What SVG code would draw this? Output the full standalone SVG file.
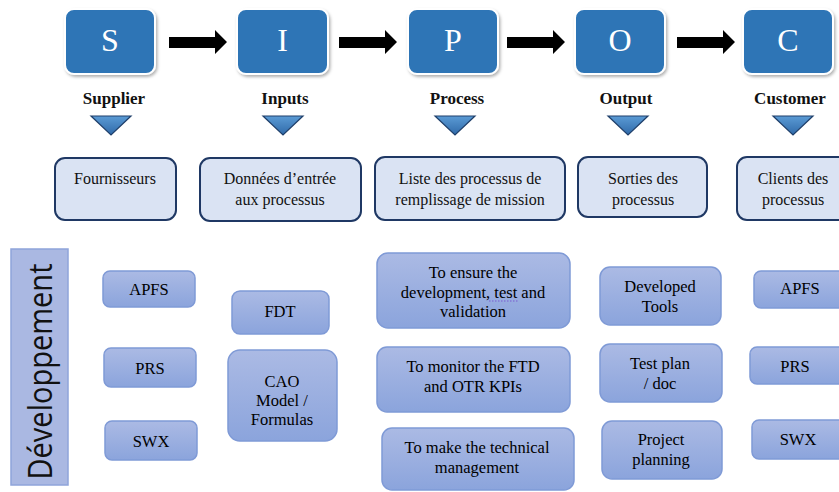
<svg xmlns="http://www.w3.org/2000/svg" width="839" height="492" viewBox="0 0 839 492">
  <defs>
    <style>
      .key rect { fill: #2e75b6; stroke: #ffffff; stroke-width: 2; }
      .key text { font-family: "Liberation Serif", "DejaVu Serif", serif; font-size: 32px; fill: #ffffff; text-anchor: middle; }
      .lbl { font-family: "Liberation Serif", "DejaVu Serif", serif; font-size: 17px; font-weight: bold; fill: #111111; text-anchor: middle; }
      .tri { fill: url(#triGrad); stroke: #1f3f6a; stroke-width: 1.2; }
      .hdr rect { fill: #dae3f3; stroke: #1f3864; stroke-width: 2; }
      .hdr text { font-family: "Liberation Serif", "DejaVu Serif", serif; font-size: 16px; fill: #111111; text-anchor: middle; }
      .itm rect { fill: url(#itmGrad); stroke: #7f9ad6; stroke-width: 1.5; }
      .itm text { font-family: "Liberation Serif", "DejaVu Serif", serif; font-size: 16.5px; fill: #000000; text-anchor: middle; }
      .arrow { fill: #000000; }
    </style>
    <linearGradient id="triGrad" x1="0" y1="0" x2="0" y2="1">
      <stop offset="0" stop-color="#5b9bd5"/>
      <stop offset="1" stop-color="#2f69a8"/>
    </linearGradient>
    <linearGradient id="itmGrad" x1="0" y1="0" x2="0" y2="1">
      <stop offset="0" stop-color="#abbae4"/>
      <stop offset="1" stop-color="#8ba4dc"/>
    </linearGradient>
    <filter id="shadow" x="-10%" y="-10%" width="125%" height="130%">
      <feDropShadow dx="1.5" dy="2" stdDeviation="1.5" flood-color="#000000" flood-opacity="0.3"/>
    </filter>
  </defs>

  <rect width="839" height="492" fill="#ffffff"/>

  <!-- SIPOC letter blocks -->
  <g id="key-s" class="key"><rect x="65" y="9" width="90" height="65" rx="9" filter="url(#shadow)"/><text x="110" y="51">S</text></g>
  <g id="key-i" class="key"><rect x="237" y="9" width="91" height="65" rx="9" filter="url(#shadow)"/><text x="282.5" y="51">I</text></g>
  <g id="key-p" class="key"><rect x="408" y="9" width="90" height="65" rx="9" filter="url(#shadow)"/><text x="453" y="51">P</text></g>
  <g id="key-o" class="key"><rect x="575" y="9" width="90" height="65" rx="9" filter="url(#shadow)"/><text x="620" y="51">O</text></g>
  <g id="key-c" class="key"><rect x="743" y="9" width="90" height="65" rx="9" filter="url(#shadow)"/><text x="788" y="51">C</text></g>

  <!-- block arrows between letters -->
  <g id="connectors">
    <path class="arrow" d="M169,37 H215 V30 L227,42 L215,54 V48 H169 Z"/>
    <path class="arrow" d="M339,37 H385 V30 L397,42 L385,54 V48 H339 Z"/>
    <path class="arrow" d="M507,37 H553 V30 L565,42 L553,54 V48 H507 Z"/>
    <path class="arrow" d="M677,37 H723 V30 L735,42 L723,54 V48 H677 Z"/>
  </g>

  <!-- column titles and pointers -->
  <g id="col-supplier"><text class="lbl" x="114" y="104">Supplier</text><path class="tri" d="M91,116 H131 L111,135 Z"/></g>
  <g id="col-inputs"><text class="lbl" x="285" y="104">Inputs</text><path class="tri" d="M263,116 H303 L283,135 Z"/></g>
  <g id="col-process"><text class="lbl" x="457" y="104">Process</text><path class="tri" d="M435,116 H475 L455,135 Z"/></g>
  <g id="col-output"><text class="lbl" x="626" y="104">Output</text><path class="tri" d="M608,116 H648 L628,135 Z"/></g>
  <g id="col-customer"><text class="lbl" x="790" y="104">Customer</text><path class="tri" d="M773,116 H813 L793,135 Z"/></g>

  <!-- column descriptions -->
  <g id="hdr-fournisseurs" class="hdr"><rect x="55" y="158" width="121" height="62" rx="10"/><text x="115" y="184">Fournisseurs</text></g>
  <g id="hdr-donnees" class="hdr"><rect x="200" y="158" width="161" height="63" rx="10"/><text x="280" y="184">Données d’entrée</text><text x="280" y="205">aux processus</text></g>
  <g id="hdr-liste" class="hdr"><rect x="375" y="157" width="190" height="63" rx="10"/><text x="470" y="184">Liste des processus de</text><text x="470" y="205">remplissage de mission</text></g>
  <g id="hdr-sorties" class="hdr"><rect x="578" y="157" width="129" height="60" rx="10"/><text x="643" y="184">Sorties des</text><text x="643" y="205">processus</text></g>
  <g id="hdr-clients" class="hdr"><rect x="737" y="157" width="115" height="63" rx="10"/><text x="793" y="184">Clients des</text><text x="793" y="205">processus</text></g>

  <!-- row label -->
  <g id="row-developpement">
    <rect x="11" y="249" width="57" height="236" fill="#aab8e2" stroke="#8fa4da" stroke-width="1.5"/>
    <text transform="translate(52,371.5) rotate(-90)" text-anchor="middle" font-family="'Open Sans', 'Liberation Sans', sans-serif" font-size="33" fill="#111111" textLength="216" lengthAdjust="spacingAndGlyphs">Développement</text>
  </g>

  <!-- supplier items -->
  <g id="sup-apfs" class="itm"><rect x="103" y="271" width="92" height="36" rx="7"/><text x="149" y="295">APFS</text></g>
  <g id="sup-prs" class="itm"><rect x="104" y="348" width="92" height="39" rx="7"/><text x="150" y="374">PRS</text></g>
  <g id="sup-swx" class="itm"><rect x="105" y="421" width="92" height="39" rx="7"/><text x="151" y="447">SWX</text></g>

  <!-- input items -->
  <g id="in-fdt" class="itm"><rect x="232" y="291" width="97" height="43" rx="8"/><text x="280" y="317">FDT</text></g>
  <g id="in-cao" class="itm"><rect x="228" y="350" width="109" height="91" rx="12"/><text x="282" y="387">CAO</text><text x="282" y="406">Model /</text><text x="282" y="425">Formulas</text></g>

  <!-- process items -->
  <g id="proc-ensure" class="itm"><rect x="377" y="253" width="193" height="75" rx="11"/><text x="473" y="278">To ensure the</text><text x="473" y="298">development, test and</text><text x="473" y="317">validation</text><line x1="489" y1="301" x2="518" y2="301" stroke="#7a5bd0" stroke-width="1" stroke-dasharray="1.5,1.5"/></g>
  <g id="proc-monitor" class="itm"><rect x="377" y="347" width="193" height="65" rx="10"/><text x="473" y="372">To monitor the FTD</text><text x="473" y="392">and OTR KPIs</text></g>
  <g id="proc-manage" class="itm"><rect x="382" y="428" width="192" height="62" rx="10"/><text x="477" y="453">To make the technical</text><text x="477" y="473">management</text></g>

  <!-- output items -->
  <g id="out-tools" class="itm"><rect x="600" y="267" width="121" height="58" rx="10"/><text x="660" y="292">Developed</text><text x="660" y="312">Tools</text></g>
  <g id="out-testplan" class="itm"><rect x="600" y="344" width="122" height="58" rx="10"/><text x="660" y="369">Test plan</text><text x="660" y="389">/ doc</text></g>
  <g id="out-planning" class="itm"><rect x="602" y="421" width="120" height="58" rx="10"/><text x="661" y="445">Project</text><text x="661" y="465">planning</text></g>

  <!-- customer items -->
  <g id="cus-apfs" class="itm"><rect x="754" y="271" width="95" height="37" rx="7"/><text x="800" y="294">APFS</text></g>
  <g id="cus-prs" class="itm"><rect x="750" y="347" width="99" height="37" rx="7"/><text x="795" y="372">PRS</text></g>
  <g id="cus-swx" class="itm"><rect x="752" y="420" width="97" height="39" rx="7"/><text x="798" y="445">SWX</text></g>
</svg>
